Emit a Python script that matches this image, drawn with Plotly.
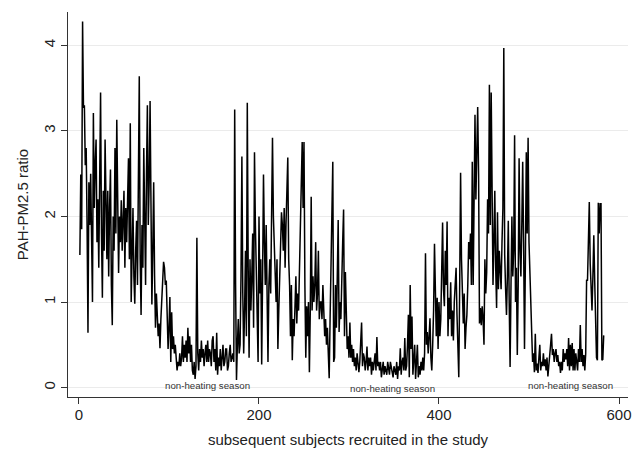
import plotly.graph_objects as go

# PAH-PM2.5 ratio per subsequent subject, in segments
ratio_heating_1 = [
    1.55, 2.49, 1.85, 4.28, 3.27, 3.3, 2.6, 2.8, 1.9, 0.64,
    2.4, 1.9, 2.5, 1.5, 1.0, 3.21, 2.1, 2.6, 2.9, 1.7,
    2.2, 1.4, 2.6, 3.45, 1.8, 1.05, 2.3, 1.6, 2.9, 2.0,
    1.5, 2.3, 1.3, 2.1, 2.55, 1.2, 0.73, 2.0, 1.6, 2.8,
    1.8, 3.13, 2.2, 1.34, 2.0, 1.7, 2.19, 1.6, 1.95, 2.3,
    1.4, 2.1, 1.7, 2.4, 2.68, 1.5, 3.09, 1.0, 1.9, 2.1,
    1.3, 0.98, 1.6, 1.95, 1.2, 2.3, 3.64, 1.5, 0.85, 1.9,
    1.4, 2.8, 1.7, 1.2, 2.5, 3.3, 1.9, 2.4, 3.35, 2.0,
    0.97, 1.6, 2.4, 1.3, 0.7, 1.1, 0.9, 0.6, 0.75, 0.46,
    0.8, 1.1, 1.35, 1.47, 1.4, 1.2, 1.25, 0.9, 0.45, 0.7,
]
ratio_nonheating_1 = [
    1.06, 0.3, 0.88, 0.45, 0.6, 0.4, 0.5, 0.35, 0.2, 0.3,
    0.25, 0.4, 0.25, 0.35, 0.6, 0.3, 0.5, 0.35, 0.55, 0.3,
    0.7, 0.4, 0.6, 0.3, 0.5, 0.2, 0.15, 0.3, 0.1, 0.25,
    1.75, 0.4, 0.2, 0.45, 0.3, 0.55, 0.35, 0.45, 0.25, 0.4,
    0.5, 0.3, 0.55, 0.3, 0.45, 0.4, 0.25, 0.55, 0.6, 0.3,
    0.45, 0.2, 0.64, 0.15, 0.35, 0.25, 0.45, 0.2, 0.35, 0.5,
    0.25, 0.3, 0.45, 0.45, 0.2, 0.25, 0.4, 0.5, 0.3, 0.35,
    0.4, 0.3,
]
ratio_heating_2 = [
    3.25, 1.2, 0.09, 0.5, 0.8, 0.4, 0.5, 1.3,
    2.7, 1.1, 0.4, 0.9, 1.6, 0.6, 3.33, 1.4, 0.35, 1.5,
    0.9, 1.3, 1.8, 0.7, 2.75, 1.9, 1.4, 0.8, 0.3, 2.0,
    1.1, 1.5, 0.27, 1.3, 2.49, 1.7, 1.2, 1.9, 0.9, 0.3,
    1.2, 1.5, 1.1, 2.2, 2.92, 2.0, 1.6, 1.2, 1.0, 1.5,
    0.45, 0.9, 1.3, 1.8, 2.05, 1.9, 1.6, 2.1, 1.4, 1.9,
    2.3, 2.69, 1.5, 1.2, 0.6, 1.2, 0.32, 0.8, 0.6, 1.0,
    1.3, 0.75, 1.1, 0.9, 1.5, 1.9, 2.4, 2.87, 2.1, 2.87,
    1.2, 0.35, 0.95, 0.6, 1.0, 0.18, 0.9, 2.23, 0.9, 1.3,
    1.0, 1.2, 1.7, 0.9, 1.1, 1.6, 0.8, 1.0, 1.0, 0.8,
    1.2, 0.9, 0.6, 0.8, 0.5, 0.7, 0.3, 0.11, 0.8, 1.5,
    2.0, 2.64, 0.3, 0.35, 1.2, 0.7, 1.3, 1.96, 0.65, 1.0,
    0.8, 1.4, 1.7, 2.08, 0.6, 1.35, 0.9, 0.45, 0.6, 0.35,
]
ratio_nonheating_2 = [
    0.76, 0.35, 0.5, 0.3, 0.45, 0.25, 0.35, 0.2, 0.4, 0.3,
    0.18, 0.3, 0.5, 0.76, 0.25, 0.4, 0.35, 0.2, 0.3, 0.48,
    0.2, 0.35, 0.25, 0.35, 0.15, 0.3, 0.2, 0.3, 0.4, 0.2,
    0.59, 0.25, 0.3, 0.2, 0.3, 0.12, 0.2, 0.3, 0.15, 0.25,
    0.2, 0.15, 0.3, 0.2, 0.15, 0.3, 0.22, 0.15, 0.12, 0.25,
    0.2, 0.15, 0.3, 0.1, 0.25, 0.2, 0.46, 0.15, 0.3, 0.35,
    0.2, 0.58, 0.2, 0.25, 0.5, 0.85, 0.12, 1.2, 0.45, 0.83,
    0.15, 0.35, 0.5, 0.1, 0.3, 0.5, 0.12, 0.25, 0.15, 0.3,
    0.2, 0.35, 0.2, 0.4,
]
ratio_heating_3 = [
    1.57, 0.5, 0.65, 0.4, 0.6, 0.81, 0.35, 0.2, 0.5, 0.9,
    1.68, 0.9, 0.6, 1.05, 0.45, 1.0,
    0.6, 0.8, 1.3, 1.93, 1.15, 0.95, 1.6, 1.2, 1.94, 0.6,
    1.05, 0.8, 1.23, 0.6, 0.9, 0.55, 1.0, 1.15, 1.4, 0.85,
    0.5, 0.12, 1.2, 2.51, 1.5, 1.0, 0.75, 1.1, 0.45, 0.7,
    0.85, 1.2, 1.7, 1.5, 1.8, 1.2, 2.64, 1.2, 2.2, 3.19,
    2.2, 2.9, 3.28, 2.5, 0.75, 0.93, 0.73, 0.95, 0.8, 0.5,
    1.5, 1.1, 1.35, 2.2, 1.8, 3.54, 1.9, 3.45, 2.0, 1.2,
    1.7, 2.3, 1.4, 0.93, 2.05, 1.15, 1.6, 1.3, 1.15, 1.7,
    2.1, 3.97, 1.55, 1.15, 0.85, 1.3, 1.95, 1.0, 0.24, 1.2,
    2.0, 1.3, 1.6, 2.95, 1.0, 1.4, 0.38, 1.2, 2.68, 1.6,
    1.3, 1.9, 2.64, 1.7, 0.45, 1.5, 2.75, 1.8, 2.92, 1.7,
    1.32, 0.85,
]
ratio_nonheating_3 = [
    0.55, 0.3, 0.4, 0.18, 0.63, 0.2, 0.28, 0.17,
    0.35, 0.5, 0.2, 0.3, 0.25, 0.4, 0.25, 0.33, 0.2, 0.35,
    0.13, 0.3, 0.38, 0.5, 0.63, 0.38, 0.45, 0.3, 0.4, 0.45,
    0.3, 0.38, 0.25, 0.3, 0.17, 0.3, 0.2, 0.45, 0.3, 0.4,
    0.33, 0.45, 0.25, 0.58, 0.2, 0.5, 0.25, 0.52, 0.2, 0.45,
    0.2, 0.4, 0.3, 0.2, 0.45, 0.3, 0.73, 0.3, 0.45, 0.25,
    0.38, 0.2, 0.4,
]
ratio_heating_4 = [
    1.26, 1.25, 1.6, 2.17, 1.45, 1.1, 0.9, 1.3, 1.78, 1.25,
    0.82, 0.35, 0.32, 2.16, 1.8, 2.15, 2.15, 0.32, 0.33, 0.61,
]

ratio = (ratio_heating_1 + ratio_nonheating_1 + ratio_heating_2 + ratio_nonheating_2
         + ratio_heating_3 + ratio_nonheating_3 + ratio_heating_4)
subjects = list(range(1, len(ratio) + 1))

x_ticks = [0, 200, 400, 600]
y_ticks = [0, 1, 2, 3, 4]
season_label = "non-heating season"
season_label_x = [143, 348, 546]
season_label_y = [0.03, -0.015, 0.03]

FONT = "Liberation Sans, Arial, sans-serif"

fig = go.Figure()
fig.add_trace(go.Scatter(
    x=subjects, y=ratio, mode="lines",
    line=dict(color="#000000", width=1.5),
    showlegend=False, hoverinfo="x+y",
))

for lx, ly in zip(season_label_x, season_label_y):
    fig.add_annotation(x=lx, y=ly, text=season_label, showarrow=False,
                       font=dict(family=FONT, size=9.7, color="#333333"),
                       xanchor="center", yanchor="middle")

# the page body adds an 8px margin, so the figure is drawn 8px smaller
fig.update_layout(
    width=636, height=448,
    margin=dict(l=60, r=16, t=4, b=59),
    paper_bgcolor="white", plot_bgcolor="white",
    font=dict(family=FONT, color="#222222"),
    xaxis=dict(
        range=[-12.2, 610], tickvals=x_ticks, ticks="outside", ticklen=6,
        tickcolor="#333333", showline=True, linecolor="#333333", linewidth=1,
        showgrid=False, zeroline=False, automargin=False,
        tickfont=dict(size=15, color="#222222"), ticklabelstandoff=-2,
        title=dict(text="subsequent subjects recruited in the study",
                   font=dict(size=15, color="#222222"), standoff=12),
    ),
    yaxis=dict(
        range=[-0.11, 4.39], tickvals=y_ticks, ticks="outside", ticklen=6,
        tickcolor="#333333", showline=True, linecolor="#333333", linewidth=1,
        showgrid=True, gridcolor="#ebebeb", gridwidth=1, zeroline=False,
        automargin=False, tickangle=-90, ticklabelstandoff=0,
        tickfont=dict(size=15, color="#222222"),
        title=dict(text="PAH-PM2.5 ratio", font=dict(size=15, color="#222222"), standoff=8),
    ),
)

fig.write_html("out.html")
